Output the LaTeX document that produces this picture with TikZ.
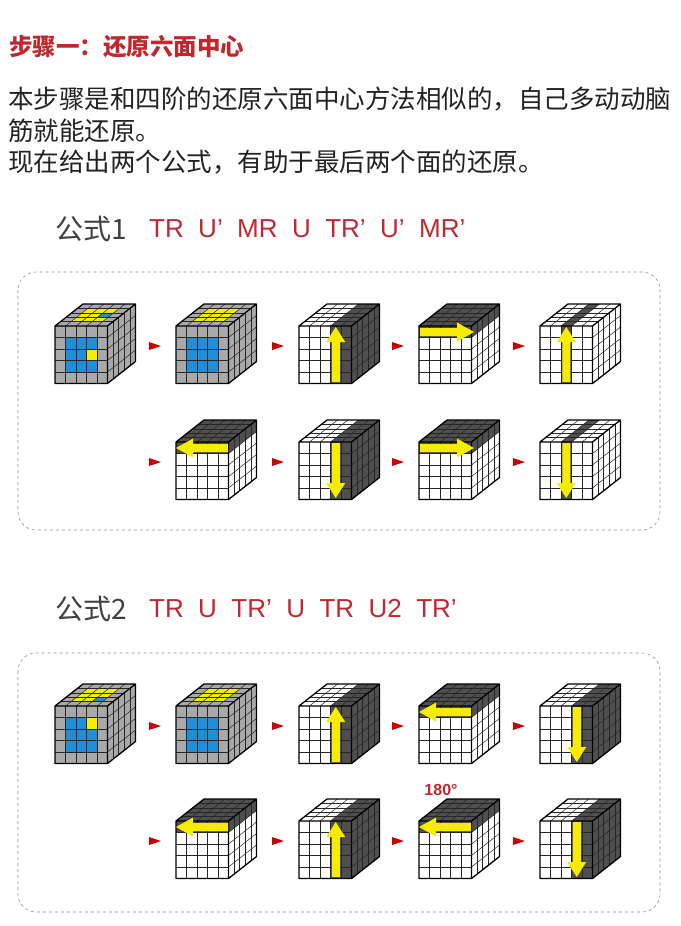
\documentclass[tikz,border=0pt]{standalone}
\usepackage{fontspec}
\setmainfont{Noto Sans CJK SC}
\newfontfamily\latinfont{Liberation Sans}
\usetikzlibrary{positioning}
\definecolor{gry}{HTML}{A9A9A9}
\definecolor{drk}{HTML}{4F4F4F}
\definecolor{blu}{HTML}{1E8FD8}
\definecolor{ylw}{HTML}{F7EC00}
\definecolor{redtxt}{HTML}{C0282D}
\definecolor{bodytxt}{HTML}{222222}

\tikzset{
  cubegrid/.style={black!85, line width=0.5pt},
  cubeedge/.style={black, line width=1.3pt, line join=round},
  turnarrow/.style={fill=ylw},
  stepsep/.style={fill=red!80!black},
  formbox/.style={draw=black!45, dashed, rounded corners=18pt, line width=0.6pt}
}

% cells: column/row counted from the front top left corner
\newcommand\frontcell[3]{\fill[#3] ({#1*10.5},{#2*11.5}) rectangle ++(10.5,11.5);}
\newcommand\topcell[3]{\fill[#3] ({#1*10.5+#2*5.6},{-#2*4.4}) -- ++(10.5,0) -- ++(5.6,-4.4) -- ++(-10.5,0) -- cycle;}
\newcommand\sidecell[3]{\fill[#3] ({52.5+#1*5.6},{#2*11.5-#1*4.4}) -- ++(5.6,-4.4) -- ++(0,11.5) -- ++(-5.6,4.4) -- cycle;}
\newcommand\faces[3]{%
  \fill[#1] (0,0) rectangle (52.5,57.5);
  \fill[#2] (0,0) -- (52.5,0) -- (80.5,-22) -- (28,-22) -- cycle;
  \fill[#3] (52.5,0) -- (80.5,-22) -- (80.5,35.5) -- (52.5,57.5) -- cycle;}
\newcommand\cubelines{%
  \foreach \k in {1,...,4} {
    \draw[cubegrid] ({\k*10.5},0) -- ++(0,57.5);
    \draw[cubegrid] (0,{\k*11.5}) -- ++(52.5,0);
    \draw[cubegrid] ({\k*10.5},0) -- ++(28,-22);
    \draw[cubegrid] ({\k*5.6},{-\k*4.4}) -- ++(52.5,0);
    \draw[cubegrid] ({52.5+\k*5.6},{-\k*4.4}) -- ++(0,57.5);
    \draw[cubegrid] (52.5,{\k*11.5}) -- ++(28,-22);
  }
  \draw[cubeedge] (0,0) rectangle (52.5,57.5)
    (0,0) -- (28,-22) -- (80.5,-22) -- (52.5,0)
    (80.5,-22) -- (80.5,35.5) -- (52.5,57.5);}
% #3 cell colours, #4 drawn over the grid
\newcommand\rcube[4]{\begin{scope}[shift={(#1,#2)}]#3\cubelines#4\end{scope}}
% yellow arrows: up / down at column centre, right / left along top row
\newcommand\arrowup[1]{\fill[turnarrow] ({#1-4},56) -- ({#1-4},16) -- ({#1-9.5},16) -- (#1,1) -- ({#1+9.5},16) -- ({#1+4},16) -- ({#1+4},56) -- cycle;}
\newcommand\arrowdown[1]{\fill[turnarrow] ({#1-4},1) -- ({#1-4},41) -- ({#1-9.5},41) -- (#1,56) -- ({#1+9.5},41) -- ({#1+4},41) -- ({#1+4},1) -- cycle;}
\newcommand\arrowright{\fill[turnarrow] (1,2) -- (38,2) -- (38,-3.5) -- (55,6) -- (38,15.5) -- (38,10) -- (1,10) -- cycle;}
\newcommand\arrowleft{\fill[turnarrow] (52,2) -- (17,2) -- (17,-3.5) -- (0,6) -- (17,15.5) -- (17,10) -- (52,10) -- cycle;}

% centre cubes
\newcommand\cubecentres{%
  \faces{gry}{gry}{gry}
  \foreach \i in {1,2,3} \foreach \j in {1,2,3} {\frontcell{\i}{\j}{blu}\topcell{\i}{\j}{ylw}}}
\newcommand\cubemixed[6]{\rcube{#1}{#2}{\cubecentres\frontcell{#3}{#4}{ylw}\topcell{#5}{#6}{blu}}{}}
\newcommand\cubesolved[2]{\rcube{#1}{#2}{\cubecentres}{}}
% TR: right two layers, arrow up (#3=1) or down (#3=0)
\newcommand\cubeTR[3]{\rcube{#1}{#2}{\faces{white}{white}{drk}
  \foreach \i in {3,4} \foreach \j in {0,...,4} {\frontcell{\i}{\j}{drk}\topcell{\i}{\j}{drk}}}
  {\ifnum#3=1 \arrowup{36.75}\else\arrowdown{36.75}\fi}}
% U: top layer, arrow right (#3=1) or left (#3=0)
\newcommand\cubeU[3]{\rcube{#1}{#2}{\faces{white}{drk}{white}
  \foreach \i in {0,...,4} {\frontcell{\i}{0}{drk}\sidecell{\i}{0}{drk}}}
  {\ifnum#3=1 \arrowright\else\arrowleft\fi}}
% MR: middle slice
\newcommand\cubeMR[3]{\rcube{#1}{#2}{\faces{white}{white}{white}
  \foreach \j in {0,...,4} {\frontcell{2}{\j}{drk}\topcell{2}{\j}{drk}}}
  {\ifnum#3=1 \arrowup{26.25}\else\arrowdown{26.25}\fi}}

\begin{document}
\begin{tikzpicture}[x=1pt,y=-1pt]
\useasboundingbox (0,0) rectangle (680,926);

% Texts
\node[anchor=west, inner sep=0pt, text=redtxt, font=\bfseries\fontsize{23.5}{26}\selectfont] (title) at (9,47) {步骤一：还原六面中心};
\node[anchor=north west, inner sep=0pt, text=bodytxt, align=left, font=\fontsize{25.5}{31.5}\selectfont] (intro) at (8,87)
  {本步骤是和四阶的还原六面中心方法相似的，自己多动动脑\\筋就能还原。\\现在给出两个公式，有助于最后两个面的还原。};

\node[anchor=west, inner sep=0pt, text=black!75, font=\fontsize{28}{30}\selectfont] (f1) at (55,229) {公式1};
\node[anchor=west, inner sep=0pt, text=redtxt, font=\latinfont\fontsize{26}{28}\selectfont, right=22pt of f1] (alg1) {TR\ \ U’\ \ MR\ \ U\ \ TR’\ \ U’\ \ MR’};
\node[anchor=west, inner sep=0pt, text=black!75, font=\fontsize{28}{30}\selectfont] (f2) at (55,609) {公式2};
\node[anchor=west, inner sep=0pt, text=redtxt, font=\latinfont\fontsize{26}{28}\selectfont, right=22pt of f2] (alg2) {TR\ \ U\ \ TR’\ \ U\ \ TR\ \ U2\ \ TR’};

% Boxes
\draw[formbox] (18,272) rectangle (660,530);
\draw[formbox] (18,653) rectangle (660,912);

% Formula 1
\cubemixed{55}{326}{3}{2}{3}{2}
\cubesolved{176}{326}
\cubeTR{299}{326}{1}
\cubeU{419}{326}{1}
\cubeMR{540}{326}{1}
\cubeU{176}{442}{0}
\cubeTR{299}{442}{0}
\cubeU{419}{442}{1}
\cubeMR{540}{442}{0}

% Formula 2
\cubemixed{55}{706}{3}{1}{3}{1}
\cubesolved{176}{706}
\cubeTR{299}{706}{1}
\cubeU{419}{706}{0}
\cubeTR{540}{706}{0}
\cubeU{176}{821}{0}
\cubeTR{299}{821}{1}
\cubeU{419}{821}{0}
\cubeTR{540}{821}{0}
\node[text=redtxt, font=\latinfont\bfseries\fontsize{16}{18}\selectfont] (deg) at (441,790) {180°};

% Separators
\foreach \x/\y in {155/346,278/346,398/346,519/346,
                   155/462,278/462,398/462,519/462,
                   155/726,278/726,398/726,519/726,
                   155/841,278/841,398/841,519/841}
  \fill[stepsep] (\x-6,\y-4) -- (\x+6,\y) -- (\x-6,\y+4) -- cycle;
\end{tikzpicture}
\end{document}
